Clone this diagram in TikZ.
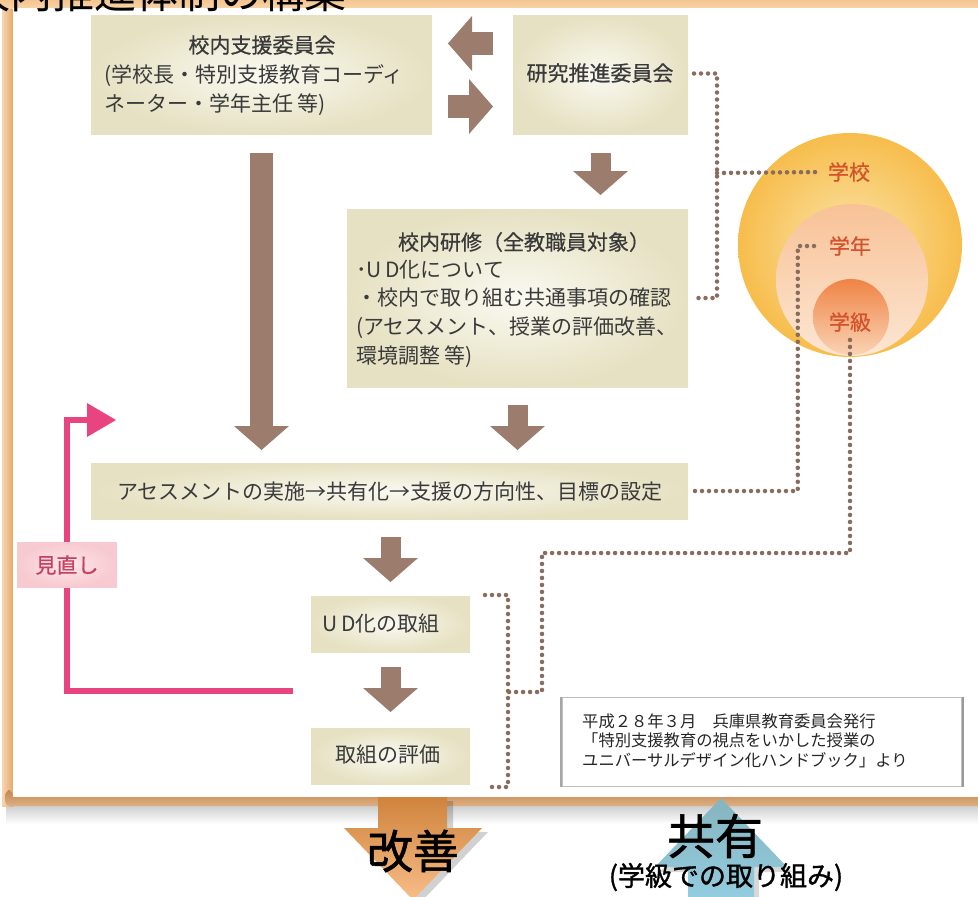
\documentclass[tikz,border=0pt]{standalone}
\usepackage{fontspec}
\setmainfont{Noto Sans CJK JP}
\newfontfamily\jpmed[FakeBold=1.2]{Noto Sans CJK JP}
\newfontfamily\jpsemi[FakeBold=0.6]{Noto Sans CJK JP}
\usetikzlibrary{arrows.meta,calc}
\definecolor{abrown}{HTML}{9C7C6C}
\definecolor{dotc}{HTML}{8A6C5E}
\definecolor{pinkl}{HTML}{E8447F}
\definecolor{boxo}{HTML}{E6E1C2}
\definecolor{boxi}{HTML}{FAF9F1}
\definecolor{txtc}{HTML}{3A3A3A}
\definecolor{labc}{HTML}{D4532C}
\definecolor{mboxo}{HTML}{F7C9D0}
\definecolor{mboxi}{HTML}{FCE6E9}
\definecolor{mtxt}{HTML}{C8405F}
\definecolor{bandtop}{HTML}{F2BD82}
\definecolor{bandtopb}{HTML}{F8D3A8}
\definecolor{bandl}{HTML}{E6A868}
\definecolor{bandll}{HTML}{F6D6B2}
\definecolor{bandb}{HTML}{C4874E}
\definecolor{bandbb}{HTML}{DDB085}
\definecolor{kaiT}{HTML}{CF843C}
\definecolor{kaiB}{HTML}{F8BD88}
\definecolor{kyoT}{HTML}{86B4BE}
\definecolor{kyoB}{HTML}{93CDE0}
\definecolor{cOneI}{HTML}{FBE4AA}
\definecolor{cOneO}{HTML}{F7BD4C}
\definecolor{cTwoT}{HTML}{F8C296}
\definecolor{cTwoB}{HTML}{FCE6D3}
\definecolor{cThrT}{HTML}{EF8446}
\definecolor{cThrB}{HTML}{FAD3B4}
\tikzset{
  box/.style={inner sep=0pt, outer sep=0pt, inner color=boxi, outer color=boxo},
  txt/.style={inner sep=0pt, font=\fontsize{21}{25}\selectfont, text=txtc},
  ttl/.style={inner sep=0pt, font=\fontsize{21}{25}\selectfont\jpsemi, text=txtc},
  citetxt/.style={inner sep=0pt, anchor=west, font=\fontsize{16.3}{19}\selectfont, text=black!85},
  lab/.style={inner sep=2pt, font=\fontsize{21}{25}\selectfont\jpsemi, text=labc},
  barrow/.style={draw=abrown, line width=20pt, -{Triangle[length=24pt,width=55pt,line width=0pt]}},
  pinkarrow/.style={draw=pinkl, line width=5.5pt, -{Triangle[length=29pt,width=34pt,line width=0pt]}},
  dotline/.style={draw=dotc, line width=4.5pt, line cap=round, dash pattern=on 0pt off 7pt},
  bigtxt/.style={inner sep=0pt, font=\fontsize{46}{50}\selectfont\jpmed, text=black}
}
\begin{document}
\begin{tikzpicture}[x=1pt,y=-1pt]
\useasboundingbox (0,0) rectangle (978,897);
\clip (0,0) rectangle (978,897);
\fill[white] (0,0) rectangle (978,897);

% frame
\shade[top color=black!22, bottom color=white] (6,803) rectangle (978,824);
\shade[left color=bandll, right color=bandl] (2,0) rectangle (13,806);
\shade[top color=bandtop, bottom color=bandtopb] (0,-5) rectangle (978,8);
\shade[top color=bandb, bottom color=bandbb] (13,797) -- (978,797) -- (978,806) -- (14,806) [rounded corners=6pt] -- (5,806) -- (5,790) -- (13,790) -- cycle;
\fill[white] (13,8) rectangle (978,797);

% title (cut at the top, as in the original)
\node[anchor=base west, inner sep=0pt, font=\fontsize{42}{42}\selectfont, text=black] (title) at (-32,8) {校内推進体制の構築};

% circles
\node[circle, minimum size=224pt, inner sep=0pt, inner color=cOneI, outer color=cOneO] (c1) at (850,245) {};
\node[circle, minimum size=152pt, inner sep=0pt, top color=cTwoT, bottom color=cTwoB] (c2) at (852,280) {};
\node[circle, minimum size=76pt, inner sep=0pt, top color=cThrT, bottom color=cThrB] (c3) at (851,317) {};
\node[lab] (gakko) at (849,172) {学校};
\node[lab] (gakunen) at (850,246) {学年};
\node[lab] (gakkyu) at (850,322) {学級};

% boxes
\node[box, minimum width=341pt, minimum height=119pt] (shien) at (261.5,74.5) {};
\node[ttl] (shienA) at (262,45) {校内支援委員会};
\node[txt, anchor=west] (shienB) at (104,76) {(学校長・特別支援教育コーディ};
\node[txt, anchor=west] (shienC) at (104,105) {ネーター・学年主任 等)};

\node[box, minimum width=175pt, minimum height=119pt] (kenkyu) at (600.5,74.5) {};
\node[ttl] (kenkyuT) at (600,73) {研究推進委員会};

\node[box, minimum width=341pt, minimum height=178pt] (kenshu) at (517.5,298) {};
\node[ttl] (kenshuA) at (524,242) {校内研修（全教職員対象）};
\node[txt, anchor=west] (kenshuB) at (356,270) {･U\,D化について};
\node[txt, anchor=west] (kenshuC) at (356,298) {・校内で取り組む共通事項の確認};
\node[txt, anchor=west] (kenshuD) at (356,328) {(アセスメント、授業の評価改善、};
\node[txt, anchor=west] (kenshuE) at (356,357) {環境調整 等)};

\node[box, minimum width=597pt, minimum height=56pt] (assess) at (389.5,491) {};
\node[txt] (assessT) at (390,492) {アセスメントの実施→共有化→支援の方向性、目標の設定};

\node[box, minimum width=159pt, minimum height=56pt] (ud) at (390.5,624) {};
\node[txt] (udT) at (381,624) {U\,D化の取組};

\node[box, minimum width=159pt, minimum height=56pt] (hyoka) at (390.5,756) {};
\node[txt] (hyokaT) at (388,755) {取組の評価};

% block arrows
\draw[barrow, line width=23pt] ($(kenkyu.west)+(-20,-31)$) -- ($(shien.east)+(16,-31)$);
\draw[barrow, line width=23pt] ($(shien.east)+(16,32)$) -- ($(kenkyu.west)+(-20,32)$);
\draw[barrow] ($(kenkyu.south)+(0,19)$) -- ($(kenkyu.south |- kenshu.north)+(0,-14)$);
\draw[barrow, line width=23pt] ($(shien.south)+(0,19)$) -- ($(shien.south |- assess.north)+(0,-13)$);
\draw[barrow] ($(kenshu.south)+(0,18)$) -- ($(kenshu.south |- assess.north)+(0,-13)$);
\draw[barrow] ($(ud.north |- assess.south)+(0,18)$) -- ($(ud.north)+(0,-14)$);
\draw[barrow] ($(ud.south)+(0,15)$) -- ($(hyoka.north)+(0,-16)$);

% review loop
\coordinate (pk0) at ($(ud.west)+(-18,67)$);
\coordinate (pkc) at (67,420);
\coordinate (pk3) at (116,420);
\draw[pinkarrow] (pk0) -| (pkc) -- (pk3);
\node[inner sep=0pt, minimum width=100pt, minimum height=45pt, inner color=mboxi, outer color=mboxo] (mina) at (67,565) {};
\node[inner sep=0pt, font=\fontsize{21}{25}\selectfont\jpsemi, text=mtxt] (minaT) at (67,565) {見直し};

% dotted links
\coordinate (dA) at (717,173);
\draw[dotline] ($(kenkyu.east)+(6,-1)$) -- (717,73.5) |- ($(kenshu.east)+(6,0)$);
\draw[dotline] (dA) -- ($(gakko.west)+(-4,0)$);
\draw[dotline] ($(assess.east)+(7,0)$) -| ($(gakunen.west)+(-29,0)$) -- ($(gakunen.west)+(-7,0)$);
\coordinate (dC) at (542,553);
\draw[dotline] ($(gakkyu.south)+(0,6)$) |- (dC) |- (508,692);
\draw[dotline] ($(ud.east)+(15,-29)$) -- ++(23,0) -- ++(0,192) -- ++(-23,0);

% citation
\node[draw=gray!50, line width=1.5pt, fill=white, minimum width=400pt, minimum height=89pt, inner sep=0pt] (cite) at (762,742) {};
\draw[gray!80, line width=2.5pt] (cite.north east) -- (cite.south east);
\draw[gray!70, line width=2pt] (cite.north west) -- (cite.south west);
\node[citetxt] (citeA) at (582,721) {平成２８年３月　兵庫県教育委員会発行};
\node[citetxt] (citeB) at (582,740) {「特別支援教育の視点をいかした授業の};
\node[citetxt] (citeC) at (582,760) {ユニバーサルデザイン化ハンドブック」より};

% bottom arrows
\fill[black, opacity=0.18] (384,801) -- (453,801) -- (453,832) -- (488,832) -- (419,904) -- (350,832) -- (384,832) -- cycle;
\shade[top color=kaiT, bottom color=kaiB] (378,797) -- (447,797) -- (447,828) -- (482,828) -- (413,900) -- (344,828) -- (378,828) -- cycle;
\fill[black, opacity=0.15] (725,803) -- (792,872) -- (759,872) -- (759,900) -- (692,900) -- (692,872) -- (660,872) -- cycle;
\shade[top color=kyoT, bottom color=kyoB] (721,798) -- (787,867) -- (754,867) -- (754,900) -- (688,900) -- (688,867) -- (655,867) -- cycle;
\node[bigtxt] (kaizen) at (413,851) {改善};
\node[bigtxt, font=\fontsize{48}{52}\selectfont\jpmed] (kyoyu) at (715,836) {共有};
\node[inner sep=0pt, font=\fontsize{27}{30}\selectfont\jpmed] (kyoyuB) at (726,877) {(学級での取り組み)};
\end{tikzpicture}
\end{document}
